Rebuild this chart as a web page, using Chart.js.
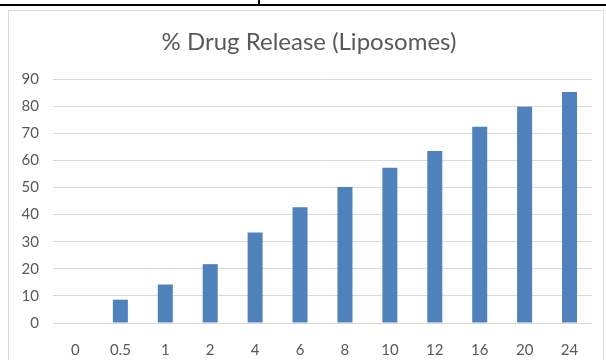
<!DOCTYPE html>
<html>
<head>
<meta charset="utf-8">
<script src="https://cdn.jsdelivr.net/npm/chart.js@4/dist/chart.umd.min.js"></script>
<style>
  html, body { margin: 0; padding: 0; background: #fff; }
  #wrap { position: relative; width: 606px; height: 360px; overflow: hidden; }
  #rule { position: absolute; left: 0; top: 4px; width: 606px; height: 2px; background: #000; }
  #tick { position: absolute; left: 258px; top: 0; width: 2px; height: 5px; background: #000; }
  #frame { position: absolute; left: 8px; top: 10px; width: 594px; height: 400px; border: 1px solid #d9d9d9; }
  canvas { position: absolute; left: 0; top: 0; }
</style>
</head>
<body>
<div id="wrap">
  <div id="rule"></div>
  <div id="tick"></div>
  <div id="frame"></div>
  <canvas id="c" width="606" height="360"></canvas>
</div>
<script>
// Sampling times (hours) and cumulative release (%)
const timePoints = ['0', '0.5', '1', '2', '4', '6', '8', '10', '12', '16', '20', '24'];
const releasePct = [0, 8.6, 14.2, 21.7, 33.4, 42.7, 50.2, 57.3, 63.4, 72.4, 79.8, 85.2];
const yTicks = [0, 10, 20, 30, 40, 50, 60, 70, 80, 90];
const chartTitle = '% Drug Release (Liposomes)';

const textColor = '#595959';
const fontFamily = 'Lato, "Open Sans", sans-serif';

// Centre the title over the framed panel rather than the whole canvas
const titleInset = {
  id: 'titleInset',
  afterLayout(chart) {
    if (chart.titleBlock) chart.titleBlock.left = 26;
  }
};

new Chart(document.getElementById('c'), {
  type: 'bar',
  data: {
    labels: timePoints,
    datasets: [{
      data: releasePct,
      backgroundColor: '#4f81bd',
      borderWidth: 0,
      categoryPercentage: 1,
      barPercentage: 0.334
    }]
  },
  plugins: [titleInset],
  options: {
    responsive: false,
    animation: false,
    layout: { padding: { left: 0, right: 14, top: 10, bottom: 0 } },
    plugins: {
      legend: { display: false },
      tooltip: { enabled: false },
      title: {
        display: true,
        text: chartTitle,
        color: textColor,
        font: { family: fontFamily, size: 24, weight: 'normal' },
        padding: { top: 17.6, bottom: 22.6 }
      }
    },
    scales: {
      x: {
        grid: { display: false, drawTicks: false },
        border: { display: false },
        ticks: {
          color: textColor,
          font: { family: fontFamily, size: 15 },
          padding: 18,
          maxRotation: 0,
          autoSkip: false
        },
        afterFit: (s) => { s.height = 37; }
      },
      y: {
        min: 0,
        max: 90,
        afterBuildTicks: (s) => { s.ticks = yTicks.map(v => ({ value: v })); },
        grid: { color: '#d9d9d9', lineWidth: 1, drawTicks: false },
        border: { display: false },
        ticks: {
          color: textColor,
          font: { family: fontFamily, size: 15 },
          padding: 14
        },
        afterFit: (s) => { s.width = 53; }
      }
    }
  }
});
</script>
</body>
</html>
